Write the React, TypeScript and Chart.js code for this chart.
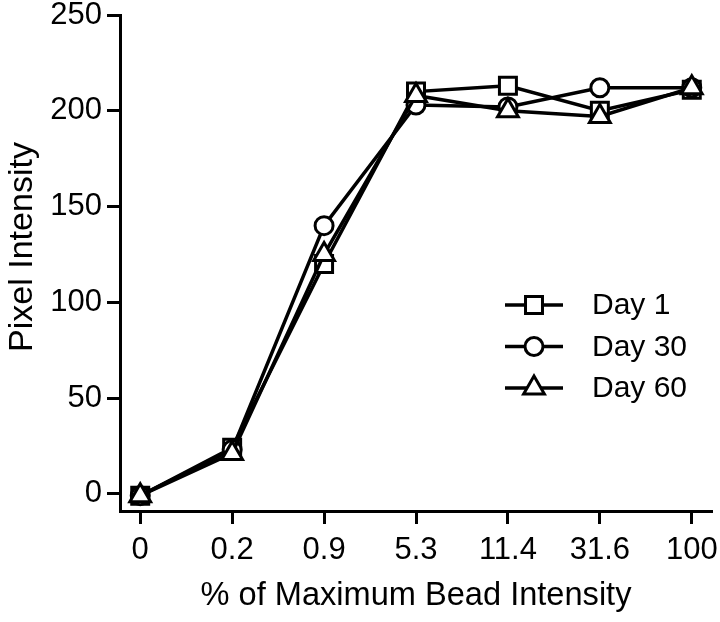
import React, { useEffect, useRef } from "react";
import { Chart, registerables } from "chart.js";

Chart.register(...registerables);

const categories = ["0", "0.2", "0.9", "5.3", "11.4", "31.6", "100"];
const day1 = [-1, 24, 120, 210, 213, 200, 211];
const day30 = [-1, 23, 140, 203, 202, 212, 212];
const day60 = [-1, 21, 125, 208, 200, 197, 212];
const seriesNames = ["Day 1", "Day 30", "Day 60"];
const yTicks = [0, 50, 100, 150, 200, 250];
const yTitle = "Pixel Intensity";
const xTitle = "% of Maximum Bead Intensity";

const FONT = "'Liberation Sans', Arial, Helvetica, sans-serif";

function drawMarker(ctx: CanvasRenderingContext2D, style: string, r: number, x: number, y: number) {
  ctx.beginPath();
  if (style === "rect") {
    const s = Math.SQRT1_2 * r;
    ctx.rect(x - s, y - s, 2 * s, 2 * s);
  } else if (style === "triangle") {
    let a = 0;
    ctx.moveTo(x + Math.sin(a) * r, y - Math.cos(a) * r);
    a += (2 * Math.PI) / 3;
    ctx.lineTo(x + Math.sin(a) * r, y - Math.cos(a) * r);
    a += (2 * Math.PI) / 3;
    ctx.lineTo(x + Math.sin(a) * r, y - Math.cos(a) * r);
    ctx.closePath();
  } else {
    ctx.arc(x, y, r, 0, Math.PI * 2);
  }
  ctx.fill();
  ctx.stroke();
}

const legendPlugin = {
  id: "lineLegend",
  afterDraw(chart: any) {
    const ctx = chart.ctx;
    const x0 = 505;
    const x1 = 563;
    const xm = (x0 + x1) / 2;
    const yStart = 305;
    const step = 41.5;
    chart.data.datasets.forEach((ds: any, i: number) => {
      const y = yStart + i * step;
      ctx.save();
      ctx.strokeStyle = "#000";
      ctx.lineWidth = 3.5;
      ctx.beginPath();
      ctx.moveTo(x0, y);
      ctx.lineTo(x1, y);
      ctx.stroke();
      ctx.fillStyle = "#fff";
      ctx.lineWidth = 3;
      drawMarker(ctx, ds.pointStyle, ds.pointRadius, xm, y);
      ctx.fillStyle = "#000";
      ctx.font = `30px ${FONT}`;
      ctx.textBaseline = "middle";
      ctx.textAlign = "left";
      ctx.fillText(ds.label, 592, y + 1);
      ctx.restore();
    });
    // y axis title
    ctx.save();
    ctx.translate(23, 247);
    ctx.rotate(-Math.PI / 2);
    ctx.fillStyle = "#000";
    ctx.font = `34px ${FONT}`;
    ctx.textAlign = "center";
    ctx.textBaseline = "middle";
    ctx.fillText(yTitle, 0, 0);
    ctx.restore();
  },
};

const zeroPad = () => ({ left: 0, right: 0, top: 0, bottom: 0 });

export default function App() {
  const ref = useRef<HTMLCanvasElement | null>(null);
  useEffect(() => {
    document.body.style.margin = "0";
    if (!ref.current) return;
    const mk = (vals: number[]) => vals.map((y, i) => ({ x: i, y }));
    const styles = ["rect", "circle", "triangle"];
    const radii = [12, 9, 12];
    const all = [day1, day30, day60];
    const chart = new Chart(ref.current, {
      type: "line",
      data: {
        datasets: all.map((vals, i) => ({
          label: seriesNames[i],
          data: mk(vals),
          borderColor: "#000",
          borderWidth: 3.5,
          pointStyle: styles[i],
          pointRadius: radii[i],
          pointBorderWidth: 3,
          pointBackgroundColor: "#fff",
          pointBorderColor: "#000",
          tension: 0,
          order: 3 - i,
          clip: false,
        })),
      },
      options: {
        responsive: false,
        animation: false,
        layout: { autoPadding: false, padding: { top: 15, right: 8, left: 0, bottom: 0 } },
        plugins: {
          legend: { display: false },
          tooltip: { enabled: false },
        },
        scales: {
          x: {
            type: "linear",
            min: -0.22,
            max: 6.22,
            afterBuildTicks: (scale: any) => {
              scale.ticks = categories.map((_, i) => ({ value: i }));
            },
            afterFit: (scale: any) => {
              scale.height = 111;
              scale.paddingLeft = 0;
              scale.paddingRight = 0;
              scale.getPadding = zeroPad;
            },
            ticks: {
              callback: (v: any) => categories[v as number] ?? "",
              color: "#000",
              font: { family: FONT, size: 31 },
              padding: 8,
              maxRotation: 0,
              autoSkip: false,
            },
            grid: {
              display: true,
              drawOnChartArea: false,
              drawTicks: true,
              tickLength: 13,
              tickWidth: 3,
              tickColor: "#000",
            },
            border: { display: true, color: "#000", width: 3 },
            title: {
              display: true,
              text: xTitle,
              color: "#000",
              font: { family: FONT, size: 32.6 },
              padding: { top: 4, bottom: 6 },
            },
          },
          y: {
            type: "linear",
            min: -9,
            max: 250,
            afterBuildTicks: (scale: any) => {
              scale.ticks = yTicks.map((v) => ({ value: v }));
            },
            afterFit: (scale: any) => {
              scale.width = 120;
              scale.paddingTop = 0;
              scale.paddingBottom = 0;
              scale.getPadding = zeroPad;
            },
            ticks: {
              color: "#000",
              font: { family: FONT, size: 31 },
              padding: 5,
            },
            grid: {
              display: true,
              drawOnChartArea: false,
              drawTicks: true,
              tickLength: 13,
              tickWidth: 3,
              tickColor: "#000",
            },
            border: { display: true, color: "#000", width: 3 },
            title: { display: false },
          },
        },
      },
      plugins: [legendPlugin],
    } as any);
    return () => chart.destroy();
  }, []);
  return (
    <div style={{ width: 720, height: 622 }}>
      <canvas ref={ref} width={720} height={622} style={{ display: "block" }} />
    </div>
  );
}
